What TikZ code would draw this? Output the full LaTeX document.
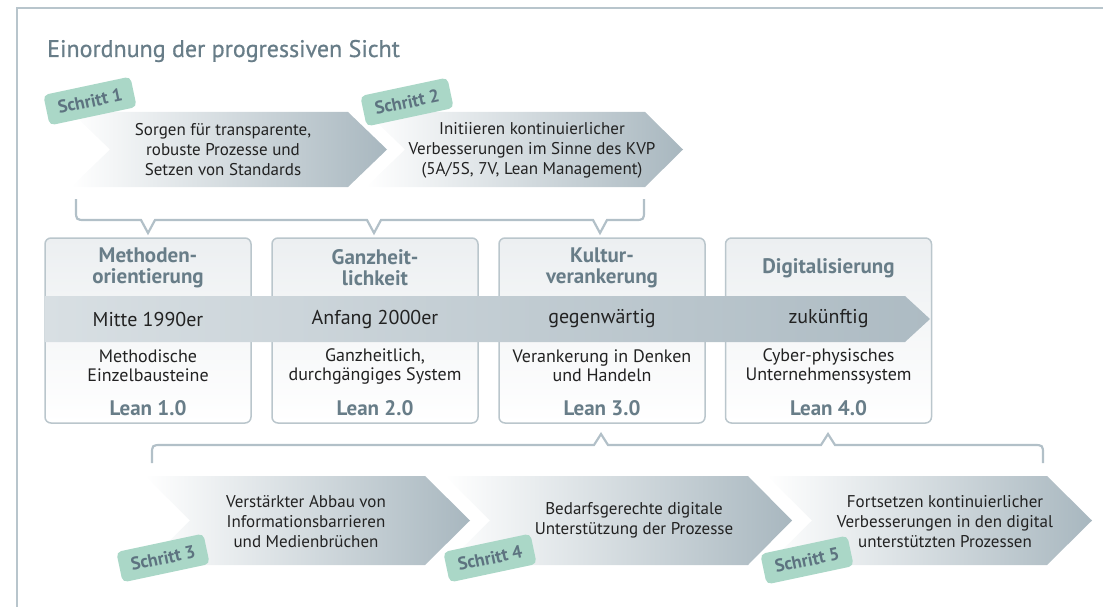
\documentclass[tikz,border=0pt]{standalone}
\usepackage{fontspec}
\setmainfont{PT Sans}
\newfontfamily\titlefont[FakeBold=0.6]{PT Sans}
\definecolor{frameblue}{HTML}{B8C5CC}
\definecolor{titleblue}{HTML}{687D88}
\definecolor{mint}{HTML}{AAD7C7}
\definecolor{schrittblue}{HTML}{5D7380}
\definecolor{arrowdark}{HTML}{A8B7BF}
\definecolor{arrowmid}{HTML}{DCE2E5}
\definecolor{banddark}{HTML}{ADBBC3}
\definecolor{bandlight}{HTML}{D8DFE3}
\definecolor{boxtop}{HTML}{ECEFF1}
\definecolor{boxline}{HTML}{BAC6CC}
\definecolor{braceblue}{HTML}{B2C0C8}
\definecolor{txt}{HTML}{222222}
\tikzset{
  chevron/.style={left color=white, middle color=arrowmid, right color=arrowdark, draw=none},
  band/.style={left color=bandlight, right color=banddark, draw=none},
  leanbox/.style={draw=boxline, line width=1.5pt, rounded corners=6pt, top color=boxtop, bottom color=white,
    minimum width=206pt, minimum height=185pt, inner sep=0pt},
  brace/.style={draw=braceblue, line width=2.2pt, line join=miter},
  steptext/.style={text=txt, align=center, inner sep=0pt, font=\fontsize{17}{20}\selectfont},
  head/.style={text=titleblue, align=center, font=\bfseries\fontsize{21}{21}\selectfont},
  era/.style={text=txt, align=center, font=\fontsize{20}{20}\selectfont},
  desc/.style={text=txt, align=center, font=\fontsize{18}{19}\selectfont},
  lean/.style={text=titleblue, align=center, font=\bfseries\fontsize{21}{21}\selectfont},
  schritt/.style={fill=mint, rounded corners=5pt, text=schrittblue, font=\bfseries\fontsize{18}{18}\selectfont,
    minimum width=89pt, minimum height=31pt, inner sep=0pt, rotate=12},
}
\begin{document}
\begin{tikzpicture}[x=1pt, y=-1pt]
\useasboundingbox (0,0) rectangle (1103,607);
% frame
\draw[frameblue, line width=2pt] (17,607) -- (17,8.5) -- (1103,8.5);
% title
\node[anchor=base west, inner sep=0pt, text=titleblue, font=\titlefont\fontsize{24}{26}\selectfont] (title) at (47,57) {Einordnung der progressiven Sicht};

% top step arrows
\shade[chevron] (71,112) -- (348,112) -- (387,149.5) -- (348,187) -- (71,187) -- (110,149.5) -- cycle;
\shade[chevron] (366,112) -- (645,112) -- (683,149.5) -- (645,187) -- (366,187) -- (405,149.5) -- cycle;
\node[steptext] (t1) at (223,150) {Sorgen für transparente,\\robuste Prozesse und\\Setzen von Standards};
\node[steptext] (t2) at (532,150) {Initiieren kontinuierlicher\\Verbesserungen im Sinne des KVP\\(5A/5S, 7V, Lean Management)};
\node[schritt] (s1) at (90,101) {Schritt 1};
\node[schritt] (s2) at (407,102) {Schritt 2};

% top brace
\draw[brace] (76,199) -- (76,210) .. controls (76,220) .. (86,220) -- (141,220) -- (148,233) -- (155,220)
  -- (367,220) -- (374,233) -- (381,220) -- (593,220) -- (600,233) -- (607,220) -- (634,220)
  .. controls (644,220) .. (644,210) -- (644,199);

% boxes
\node[leanbox] (b1) at (148,330.5) {};
\node[leanbox] (b2) at (375,330.5) {};
\node[leanbox] (b3) at (602,330.5) {};
\node[leanbox] (b4) at (828.5,330.5) {};

% timeline band
\shade[band] (45,296) -- (905,296) -- (930,319) -- (905,342) -- (45,342) -- cycle;

% box texts
\node[head] (h1) at (148,268) {Methoden-\\orientierung};
\node[head] (h2) at (375,268) {Ganzheit-\\lichkeit};
\node[head] (h3) at (602,268) {Kultur-\\verankerung};
\node[head] (h4) at (828.5,268) {Digitalisierung};
\node[era] (e1) at (148,319) {Mitte 1990er};
\node[era] (e2) at (375,319) {Anfang 2000er};
\node[era] (e3) at (602,319) {gegenwärtig};
\node[era] (e4) at (828.5,319) {zukünftig};
\node[desc] (d1) at (148,366) {Methodische\\Einzelbausteine};
\node[desc] (d2) at (375,366) {Ganzheitlich,\\durchgängiges System};
\node[desc] (d3) at (602,366) {Verankerung in Denken\\und Handeln};
\node[desc] (d4) at (828.5,366) {Cyber-physisches\\Unternehmenssystem};
\node[lean] (l1) at (148,408) {Lean 1.0};
\node[lean] (l2) at (375,408) {Lean 2.0};
\node[lean] (l3) at (602,408) {Lean 3.0};
\node[lean] (l4) at (828.5,408) {Lean 4.0};

% bottom brace
\draw[brace] (152,463) -- (152,455) .. controls (152,445) .. (162,445) -- (594,445) -- (601,434) -- (608,445)
  -- (821,445) -- (828,434) -- (835,445) -- (1033,445) .. controls (1043,445) .. (1043,455) -- (1043,463);

% bottom step arrows
\shade[chevron] (145,476) -- (425,476) -- (470,520.5) -- (425,565) -- (145,565) -- (190,520.5) -- cycle;
\shade[chevron] (445,476) -- (748,476) -- (792,520.5) -- (748,565) -- (445,565) -- (490,520.5) -- cycle;
\shade[chevron] (767,476) -- (1047,476) -- (1092,520.5) -- (1047,565) -- (767,565) -- (812,520.5) -- cycle;
\node[steptext] (t3) at (306,522) {Verstärkter Abbau von\\Informationsbarrieren\\und Medienbrüchen};
\node[steptext] (t4) at (634,520) {Bedarfsgerechte digitale\\Unterstützung der Prozesse};
\node[steptext] (t5) at (945,522) {Fortsetzen kontinuierlicher\\Verbesserungen in den digital\\unterstützten Prozessen};
\node[schritt] (s3) at (163,558) {Schritt 3};
\node[schritt] (s4) at (490,558) {Schritt 4};
\node[schritt] (s5) at (807,560) {Schritt 5};
\end{tikzpicture}
\end{document}
